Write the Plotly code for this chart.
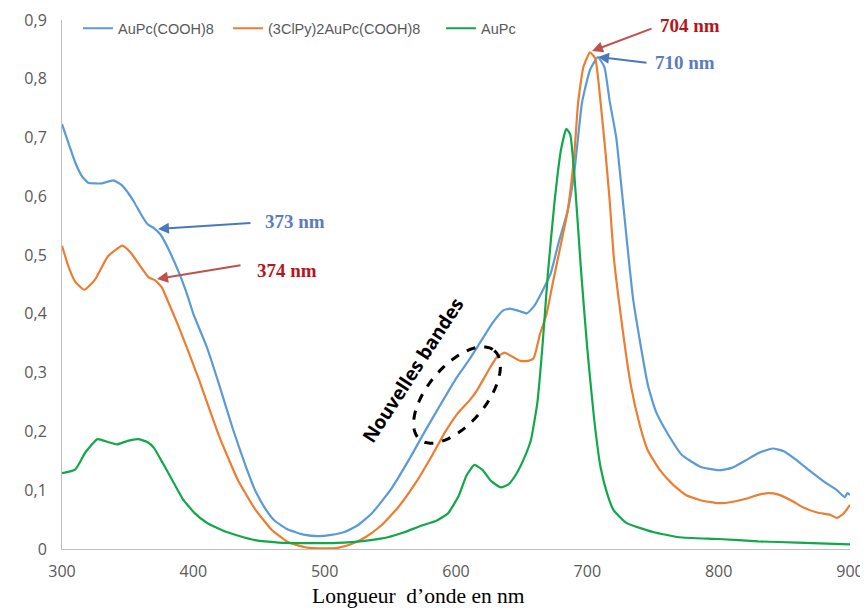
import numpy as np
import plotly.graph_objects as go

# ---- data ----
blue_x = [300, 305, 310, 315, 320, 330, 339, 345, 350, 355, 360, 365, 370, 375, 380, 390, 396, 400, 410, 420,
          430, 440, 447, 455, 462, 472, 485, 495, 505, 515, 525, 536, 550, 565, 575, 588, 600, 610, 618, 628, 636,
          641, 648, 654, 660, 666, 672, 678, 685, 690, 696, 702, 708, 713, 717, 722, 727, 735, 746, 752, 761,
          772, 786, 800, 810, 820, 830, 841, 850, 860, 870, 880, 890, 896, 898, 900]
blue_y = [0.723, 0.69, 0.658, 0.635, 0.623, 0.622, 0.627, 0.62, 0.607, 0.59, 0.57, 0.553, 0.546, 0.535, 0.515,
          0.465, 0.428, 0.4, 0.345, 0.277, 0.205, 0.14, 0.1, 0.068, 0.048, 0.033, 0.024, 0.022, 0.024, 0.029, 0.04,
          0.061, 0.1, 0.155, 0.195, 0.245, 0.29, 0.322, 0.35, 0.385, 0.406, 0.409, 0.405, 0.401, 0.415, 0.44,
          0.468, 0.52, 0.575, 0.64, 0.76, 0.815, 0.837, 0.82, 0.762, 0.7, 0.593, 0.423, 0.28, 0.235, 0.197,
          0.16, 0.14, 0.134, 0.138, 0.15, 0.163, 0.171, 0.166, 0.15, 0.132, 0.115, 0.1, 0.088, 0.095, 0.092]

orange_x = [300, 305, 310, 317, 325, 335, 346, 352, 360, 366, 371, 376, 380, 390, 404, 420, 434, 447, 460, 472,
            485, 500, 510, 520, 531, 543, 556, 570, 582, 592, 601, 610, 616, 625, 631, 637, 643, 649, 655, 659,
            664, 669, 674, 680, 685, 690, 693, 697, 702, 706, 710, 714, 717, 720, 724, 733, 740, 746, 755, 765,
            775, 786, 800, 810, 820, 830, 838, 845, 855, 865, 875, 885, 890, 895, 900]
orange_y = [0.516, 0.48, 0.455, 0.441, 0.458, 0.498, 0.516, 0.505, 0.48, 0.462, 0.457, 0.445, 0.425, 0.372, 0.29,
            0.19, 0.117, 0.068, 0.032, 0.012, 0.003, 0.001, 0.002, 0.008, 0.02, 0.04, 0.071, 0.115, 0.16, 0.2,
            0.23, 0.252, 0.27, 0.305, 0.326, 0.334, 0.327, 0.32, 0.32, 0.324, 0.366, 0.4, 0.456, 0.52, 0.575,
            0.67, 0.76, 0.82, 0.845, 0.835, 0.762, 0.67, 0.593, 0.5, 0.423, 0.28, 0.21, 0.168, 0.135, 0.11,
            0.092, 0.083, 0.078, 0.08, 0.085, 0.092, 0.095, 0.093, 0.083, 0.07, 0.062, 0.058, 0.053, 0.06, 0.075]

green_x = [300, 310, 318, 327, 335, 342, 350, 358, 365, 370, 377, 384, 392, 401, 410, 422, 435, 447, 465, 485,
           505, 523, 535, 548, 560, 574, 585, 594, 602, 608, 614, 620, 627, 634, 640, 646, 652, 657, 662, 666,
           670, 675, 680, 684, 687, 690, 695, 700, 705, 710, 715, 720, 730, 750, 770, 800, 830, 860, 900]
green_y = [0.129, 0.135, 0.165, 0.187, 0.182, 0.178, 0.184, 0.187, 0.182, 0.172, 0.145, 0.117, 0.085, 0.061,
           0.045, 0.032, 0.022, 0.015, 0.011, 0.01, 0.01, 0.012, 0.015, 0.02, 0.028, 0.04, 0.048, 0.061, 0.09,
           0.125, 0.143, 0.135, 0.115, 0.105, 0.11, 0.128, 0.155, 0.185, 0.25, 0.35, 0.47, 0.59, 0.68, 0.715,
           0.705, 0.64, 0.48, 0.34, 0.225, 0.14, 0.095, 0.066, 0.044, 0.029, 0.02, 0.017, 0.013, 0.011, 0.008]

series_names = ["AuPc(COOH)8", "(3ClPy)2AuPc(COOH)8", "AuPc"]
x_ticks = [300, 400, 500, 600, 700, 800, 900]
y_ticks = [0, 0.1, 0.2, 0.3, 0.4, 0.5, 0.6, 0.7, 0.8, 0.9]

BLUE = "#5b9bd5"
ORANGE = "#ed7d31"
GREEN = "#11a84a"
TXT_BLUE = "#5b7cbf"
TXT_RED = "#b8141c"

fig = go.Figure()
legend_ids = ["legend", "legend2", "legend3"]
for xs, ys, name, col, lg in [(blue_x, blue_y, series_names[0], BLUE, legend_ids[0]),
                              (orange_x, orange_y, series_names[1], ORANGE, legend_ids[1]),
                              (green_x, green_y, series_names[2], GREEN, legend_ids[2])]:
    fig.add_trace(go.Scatter(x=xs, y=ys, mode="lines", name=name, legend=lg,
                             line=dict(color=col, width=2.2, shape="spline", smoothing=0.45)))

# the page adds an 8px body margin; compensate so the plot area lands where the reference has it
OFF = 8
W, H = 868 - OFF, 610 - OFF
L, R, T, B = 62 - OFF, 18, 20 - OFF, 61
pw, ph = W - L - R, H - T - B

def px2data(px, py):
    """screen pixel -> data coordinates"""
    px -= OFF
    py -= OFF
    return 300 + (px - L) / pw * 600, (H - B - py) / ph * 0.9

def px2paper(px, py):
    px -= OFF
    py -= OFF
    return (px - L) / pw, (H - B - py) / ph

# dashed ellipse around "Nouvelles bandes"
cx, cy, a, b, ang = 457, 395, 58, 29, np.deg2rad(-50)
t = np.linspace(0, 2 * np.pi, 80)
ex = cx + a * np.cos(t) * np.cos(ang) - b * np.sin(t) * np.sin(ang)
ey = cy + a * np.cos(t) * np.sin(ang) + b * np.sin(t) * np.cos(ang)
pts = [px2data(x, y) for x, y in zip(ex, ey)]
path = "M " + " L ".join(f"{p[0]:.3f},{p[1]:.5f}" for p in pts) + " Z"
fig.add_shape(type="path", path=path, xref="x", yref="y",
              line=dict(color="black", width=3, dash="dash"))

def arrow(tip_px, tail_px, col):
    xd, yd = px2data(*tip_px)
    fig.add_annotation(x=xd, y=yd, xref="x", yref="y", text="", showarrow=True,
                       ax=tail_px[0] - tip_px[0], ay=tail_px[1] - tip_px[1],
                       arrowhead=2, arrowsize=1.1, arrowwidth=2, arrowcolor=col)

def label(px, py, text, col):
    xd, yd = px2data(px, py)
    fig.add_annotation(x=xd, y=yd, xref="x", yref="y", text=f"<b>{text}</b>", showarrow=False,
                       xanchor="left", yanchor="middle",
                       font=dict(family="Liberation Serif", size=19, color=col))

arrow((158, 229), (252, 223), "#4a78be")
label(263, 221, "373 nm", TXT_BLUE)
arrow((157, 279), (242, 265), "#c0504d")
label(255, 270, "374 nm", TXT_RED)
arrow((592, 51), (653, 28), "#c0504d")
label(658, 25, "704 nm", TXT_RED)
arrow((598, 57), (648, 63), "#4a78be")
label(653, 62, "710 nm", TXT_BLUE)

xd, yd = px2data(413, 370)
fig.add_annotation(x=xd, y=yd, xref="x", yref="y", text="<b>Nouvelles bandes</b>", showarrow=False,
                   textangle=-57, font=dict(family="Open Sans", size=19, color="black"))

xp, yp = px2paper(418, 596)
fig.add_annotation(x=xp, y=yp, xref="paper", yref="paper", yanchor="middle", xanchor="center",
                   text="Longueur  d’onde en nm", showarrow=False,
                   font=dict(family="Liberation Serif", size=21.5, color="black"))

leg_common = dict(orientation="h", yanchor="top", xanchor="left", y=1.0145,
                  font=dict(family="Liberation Sans", size=14.5, color="#595959"),
                  bgcolor="rgba(0,0,0,0)")
legend_x = [0.0203, 0.2107, 0.481]

fig.update_layout(
    width=W, height=H, margin=dict(l=L, r=R, t=T, b=B, autoexpand=False),
    paper_bgcolor="white", plot_bgcolor="white",
    separators=", ",
    showlegend=True,
    legend=dict(x=legend_x[0], **leg_common),
    legend2=dict(x=legend_x[1], **leg_common),
    legend3=dict(x=legend_x[2], **leg_common),
    xaxis=dict(range=[300, 900], tickvals=x_ticks, showgrid=False, zeroline=False, automargin=False,
               showline=True, linecolor="#bfbfbf", linewidth=1, ticks="", ticklabelstandoff=8,
               tickfont=dict(family="Open Sans", size=16, color="#595959")),
    yaxis=dict(range=[0, 0.9], tickvals=y_ticks, showgrid=False, zeroline=False, automargin=False,
               showline=True, linecolor="#bfbfbf", linewidth=1, ticks="", ticklabelstandoff=11,
               tickfont=dict(family="Open Sans", size=16, color="#595959")),
)

fig.write_html("out.html")
